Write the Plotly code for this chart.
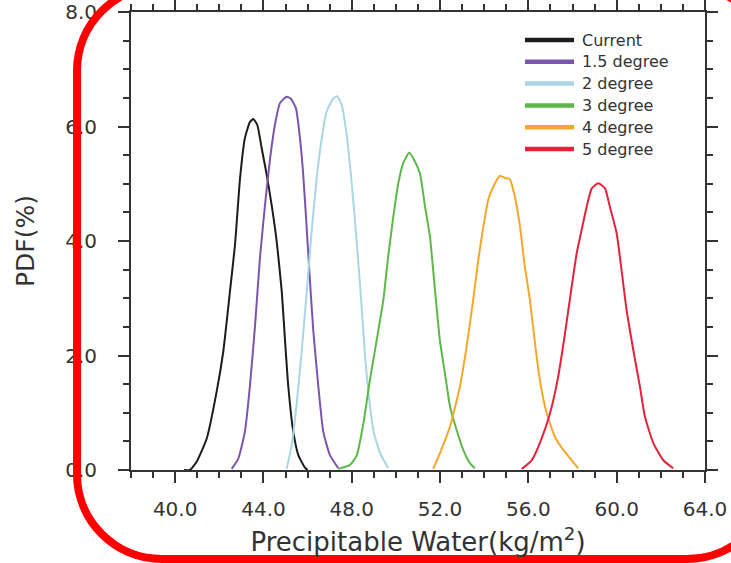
import plotly.graph_objects as go

# ---------------- data ----------------
series_names = ["Current", "1.5 degree", "2 degree", "3 degree", "4 degree", "5 degree"]
series_colors = ["#1c1c1c", "#7b55ad", "#a9d6e6", "#5db84a", "#f5a72a", "#e2233a"]

x_current = [40.4, 40.67, 40.98, 41.43, 41.88, 42.18, 42.48, 42.71, 42.94, 43.16, 43.39, 43.54,
             43.72, 43.92, 44.15, 44.37, 44.60, 44.83, 44.97, 45.12, 45.35, 45.58, 45.88, 46.0]
y_current = [0.0, 0.0, 0.15, 0.55, 1.37, 2.07, 3.11, 3.93, 5.10, 5.80, 6.08, 6.13,
             6.03, 5.62, 5.15, 4.63, 3.99, 3.11, 2.30, 1.48, 0.67, 0.26, 0.04, 0.0]

x_15 = [42.56, 42.86, 43.16, 43.39, 43.62, 43.84, 44.07, 44.30, 44.52, 44.75, 45.05, 45.23,
        45.47, 45.62, 45.78, 45.93, 46.08, 46.26, 46.48, 46.71, 47.01, 47.39]
y_15 = [0.02, 0.20, 0.67, 1.48, 2.53, 3.70, 4.63, 5.44, 6.03, 6.41, 6.52, 6.49,
        6.32, 5.91, 5.27, 4.40, 3.46, 2.42, 1.48, 0.67, 0.26, 0.03]

x_2 = [45.05, 45.28, 45.50, 45.73, 45.96, 46.18, 46.41, 46.64, 46.86, 47.16, 47.34, 47.54,
       47.77, 48.00, 48.20, 48.40, 48.60, 48.80, 49.00, 49.30, 49.65]
y_2 = [0.02, 0.44, 1.14, 2.07, 3.11, 4.16, 5.10, 5.79, 6.26, 6.49, 6.53, 6.38,
       5.85, 5.00, 4.10, 3.10, 2.00, 1.20, 0.65, 0.28, 0.03]

x_3 = [47.39, 47.92, 48.22, 48.52, 48.82, 49.13, 49.43, 49.65, 49.88, 50.11, 50.33, 50.60,
       50.86, 51.09, 51.32, 51.54, 51.77, 51.99, 52.22, 52.45, 52.75, 53.05, 53.35, 53.58]
y_3 = [0.02, 0.09, 0.25, 0.80, 1.57, 2.27, 2.97, 3.73, 4.42, 5.01, 5.36, 5.54,
       5.39, 5.18, 4.60, 4.08, 3.14, 2.27, 1.69, 1.11, 0.70, 0.35, 0.12, 0.03]

x_4 = [51.69, 51.99, 52.45, 52.90, 53.20, 53.50, 53.73, 53.96, 54.18, 54.41, 54.71, 54.94,
       55.16, 55.39, 55.62, 55.84, 56.07, 56.30, 56.52, 56.83, 57.20, 57.58, 57.96, 58.26]
y_4 = [0.02, 0.29, 0.76, 1.46, 2.15, 2.97, 3.67, 4.25, 4.72, 4.95, 5.14, 5.10,
       5.08, 4.77, 4.25, 3.55, 2.97, 2.21, 1.57, 0.99, 0.58, 0.35, 0.17, 0.03]

x_5 = [55.70, 56.15, 56.52, 56.98, 57.35, 57.66, 57.96, 58.19, 58.41, 58.64, 58.87, 59.17,
       59.47, 59.69, 60.00, 60.22, 60.45, 60.75, 61.05, 61.28, 61.66, 62.11, 62.56]
y_5 = [0.02, 0.17, 0.47, 0.99, 1.63, 2.39, 3.20, 3.79, 4.19, 4.60, 4.92, 5.01,
       4.92, 4.60, 4.13, 3.49, 2.79, 2.10, 1.46, 0.93, 0.47, 0.17, 0.03]

series_x = [x_current, x_15, x_2, x_3, x_4, x_5]
series_y = [y_current, y_15, y_2, y_3, y_4, y_5]

x_range = [38, 64]
y_range = [0, 8]

# ---------------- layout geometry (pixels) ----------------
W, H = 731, 563
ML, MR, MT, MB = 131, 26, 12, 93
PW, PH = W - ML - MR, H - MT - MB


def px2paper(px, py):
    return (px - ML) / PW, (H - MB - py) / PH


FONT = "DejaVu Sans"
TXT = "#333333"
AX = "#333333"

fig = go.Figure()
for name, color, xs, ys in zip(series_names, series_colors, series_x, series_y):
    fig.add_trace(go.Scatter(x=xs, y=ys, mode="lines", name=name,
                             line=dict(color=color, width=2, shape="spline", smoothing=0.5),
                             showlegend=False))

axis_common = dict(showgrid=False, zeroline=False, showline=True, linecolor=AX, linewidth=2,
                   ticks="outside", tickcolor=AX, tickwidth=2, ticklen=11, mirror="ticks",
                   automargin=False,
                   tickfont=dict(family=FONT, size=20, color=TXT))

fig.update_xaxes(range=x_range, tick0=40, dtick=4, tickformat=".1f",
                 minor=dict(dtick=1, ticks="outside", ticklen=6, tickcolor=AX, tickwidth=2),
                 ticklabelstandoff=9,
                 title=dict(text="Precipitable Water(kg/m<sup>2</sup>)",
                            font=dict(family=FONT, size=26, color=TXT), standoff=13),
                 **axis_common)
fig.update_yaxes(range=y_range, tick0=0, dtick=2, tickformat=".1f",
                 minor=dict(dtick=0.5, ticks="outside", ticklen=6, tickcolor=AX, tickwidth=2),
                 ticklabelstandoff=17,
                 title=dict(text="PDF(%)", font=dict(family=FONT, size=25, color=TXT), standoff=23),
                 **axis_common)

# ---------------- manual legend ----------------
shapes = []
annotations = []
leg_x0, leg_x1, leg_text_x = 525, 574, 580
leg_y0, leg_dy = 40, 21.8
for i, (name, color) in enumerate(zip(series_names, series_colors)):
    yy = leg_y0 + i * leg_dy
    xa, ya = px2paper(leg_x0, yy)
    xb, _ = px2paper(leg_x1, yy)
    shapes.append(dict(type="line", xref="paper", yref="paper", x0=xa, x1=xb, y0=ya, y1=ya,
                       line=dict(color=color, width=4.5), layer="above"))
    xt, _ = px2paper(leg_text_x, yy)
    annotations.append(dict(xref="paper", yref="paper", x=xt, y=ya, text=name, showarrow=False,
                            xanchor="left", yanchor="middle",
                            font=dict(family=FONT, size=16, color=TXT)))

# ---------------- red rounded frame ----------------
L, R, T, B, r = 77, 772, -14, 559, 85
k = 0.5523 * r
pts = [
    ("M", [(L, T + r)]),
    ("L", [(L, B - r)]),
    ("C", [(L, B - r + k), (L + r - k, B), (L + r, B)]),
    ("L", [(R - r, B)]),
    ("C", [(R - r + k, B), (R, B - r + k), (R, B - r)]),
    ("L", [(R, T + r)]),
    ("C", [(R, T + r - k), (R - r + k, T), (R - r, T)]),
    ("L", [(L + r, T)]),
    ("C", [(L + r - k, T), (L, T + r - k), (L, T + r)]),
]
path = ""
for cmd, plist in pts:
    coords = " ".join("%.5f,%.5f" % px2paper(a, b) for a, b in plist)
    path += cmd + coords + " "
path += "Z"
shapes.append(dict(type="path", xref="paper", yref="paper", path=path,
                   line=dict(color="#ff0000", width=8), layer="above"))

fig.update_layout(width=W, height=H, margin=dict(l=ML, r=MR, t=MT, b=MB, autoexpand=False),
                  plot_bgcolor="white", paper_bgcolor="white",
                  shapes=shapes, annotations=annotations, showlegend=False)

fig.write_html("out.html")
